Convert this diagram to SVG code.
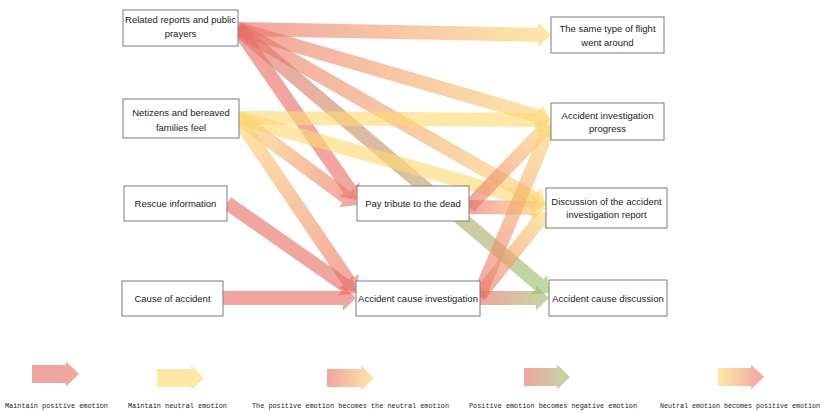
<svg xmlns="http://www.w3.org/2000/svg" width="830" height="413" viewBox="0 0 830 413">
<defs>
<linearGradient id="gP" x1="0" y1="0" x2="1" y2="0"><stop offset="0" stop-color="#E86E67"/><stop offset="1" stop-color="#E86E67"/></linearGradient>
<linearGradient id="gN" x1="0" y1="0" x2="1" y2="0"><stop offset="0" stop-color="#FDD973"/><stop offset="1" stop-color="#FDD973"/></linearGradient>
<linearGradient id="gPN" x1="0" y1="0" x2="1" y2="0"><stop offset="0" stop-color="#E86E67"/><stop offset="1" stop-color="#FDD973"/></linearGradient>
<linearGradient id="gPNeg" x1="0" y1="0" x2="1" y2="0"><stop offset="0" stop-color="#E86E67"/><stop offset="1" stop-color="#98C06D"/></linearGradient>
<linearGradient id="gNP" x1="0" y1="0" x2="1" y2="0"><stop offset="0" stop-color="#FDD973"/><stop offset="1" stop-color="#E86E67"/></linearGradient>
<style>
.a{fill-opacity:0.62;stroke:none}
.p{fill:url(#gP)}
.n{fill:url(#gN)}
.pn{fill:url(#gPN)}
.png{fill:url(#gPNeg)}
.np{fill:url(#gNP)}
.box{fill:#fff;stroke:#7a7a7a;stroke-width:1}
.t{font-family:"Liberation Sans",Arial,sans-serif;font-size:9.5px;fill:#222;text-anchor:middle}
.lg{font-family:"Liberation Mono","Courier New",monospace;font-size:7px;fill:#222}
</style>
</defs>

<g id="connectors">
<g transform="translate(238 29) rotate(1.10)"><path class="a pn" d="M0,-7H300.06V-12.5L313.06,0L300.06,12.5V7H0Z"/></g>
<g transform="translate(238 29) rotate(16.21)"><path class="a pn" d="M0,-7H312.96V-12.5L325.96,0L312.96,12.5V7H0Z"/></g>
<g transform="translate(238 29) rotate(29.74)"><path class="a pn" d="M0,-7H341.74V-12.5L354.74,0L341.74,12.5V7H0Z"/></g>
<g transform="translate(238 29) rotate(55.16)"><path class="a p" d="M0,-7H195.33V-12.5L208.33,0L195.33,12.5V7H0Z"/></g>
<g transform="translate(238 29) rotate(40.33)"><path class="a png" d="M0,-7H394.94V-12.5L407.94,0L394.94,12.5V7H0Z"/></g>
<g transform="translate(239 118) rotate(0.37)"><path class="a n" d="M0,-7H299.01V-12.5L312.01,0L299.01,12.5V7H0Z"/></g>
<g transform="translate(239 118) rotate(15.82)"><path class="a n" d="M0,-7H306.09V-12.5L319.09,0L306.09,12.5V7H0Z"/></g>
<g transform="translate(239 118) rotate(36.40)"><path class="a np" d="M0,-7H133.6V-12.5L146.6,0L133.6,12.5V7H0Z"/></g>
<g transform="translate(239 120) rotate(55.78)"><path class="a np" d="M0,-7H195.02V-12.5L208.02,0L195.02,12.5V7H0Z"/></g>
<g transform="translate(227 203) rotate(34.90)"><path class="a p" d="M0,-7H144.29V-12.5L157.29,0L144.29,12.5V7H0Z"/></g>
<g transform="translate(223 298)"><path class="a p" d="M0,-7H120V-12.5L133,0L120,12.5V7H0Z"/></g>
<g transform="translate(469 207) rotate(-46.03)"><path class="a pn" d="M0,-7H105.11V-12.5L118.11,0L105.11,12.5V7H0Z"/></g>
<g transform="translate(469 207) rotate(0.74)"><path class="a pn" d="M0,-7H64.01V-12.5L77.01,0L64.01,12.5V7H0Z"/></g>
<g transform="translate(479 296) rotate(-67.29)"><path class="a pn" d="M0,-7H173.46V-12.5L186.46,0L173.46,12.5V7H0Z"/></g>
<g transform="translate(479 296) rotate(-51.42)"><path class="a pn" d="M0,-7H94.45V-12.5L107.45,0L94.45,12.5V7H0Z"/></g>
<g transform="translate(479 298)"><path class="a png" d="M0,-7H57V-12.5L70,0L57,12.5V7H0Z"/></g>
</g>

<g id="n1"><rect class="box" x="123" y="10" width="115" height="36"/><text class="t" x="180.5" y="23">Related reports and public</text><text class="t" x="180.5" y="37">prayers</text></g>
<g id="n2"><rect class="box" x="123" y="99" width="116" height="39"/><text class="t" x="181" y="115.5">Netizens and bereaved</text><text class="t" x="181" y="130.5">families feel</text></g>
<g id="n3"><rect class="box" x="124" y="186" width="103" height="35"/><text class="t" x="175.5" y="206.5">Rescue information</text></g>
<g id="n4"><rect class="box" x="122" y="281" width="101" height="35"/><text class="t" x="172.5" y="301.5">Cause of accident</text></g>
<g id="n5"><rect class="box" x="357" y="186" width="112" height="35"/><text class="t" x="413" y="206.5">Pay tribute to the dead</text></g>
<g id="n6"><rect class="box" x="356" y="281" width="124" height="35"/><text class="t" x="418" y="301.5">Accident cause investigation</text></g>
<g id="n7"><rect class="box" x="551" y="17" width="113" height="36"/><text class="t" x="607.5" y="31.5">The same type of flight</text><text class="t" x="607.5" y="45.5">went around</text></g>
<g id="n8"><rect class="box" x="551" y="103" width="113" height="37"/><text class="t" x="607.5" y="118.5">Accident investigation</text><text class="t" x="607.5" y="131.5">progress</text></g>
<g id="n9"><rect class="box" x="546" y="188" width="121" height="40"/><text class="t" x="606.5" y="204.5">Discussion of the accident</text><text class="t" x="606.5" y="217.5">investigation report</text></g>
<g id="n10"><rect class="box" x="549" y="280" width="118" height="36"/><text class="t" x="608" y="301.5">Accident cause discussion</text></g>

<g id="legend">
<g transform="translate(32 374)"><path class="a p" d="M0,-9H34V-12.5L47,0L34,12.5V9H0Z"/></g>
<g transform="translate(157 378)"><path class="a n" d="M0,-9H34V-12.5L47,0L34,12.5V9H0Z"/></g>
<g transform="translate(327 378)"><path class="a pn" d="M0,-9H34V-12.5L47,0L34,12.5V9H0Z"/></g>
<g transform="translate(524 377)"><path class="a png" d="M0,-9H33V-12.5L46,0L33,12.5V9H0Z"/></g>
<g transform="translate(718 377)"><path class="a np" d="M0,-9H33V-12.5L46,0L33,12.5V9H0Z"/></g>
<text class="lg" x="5" y="408" textLength="103" lengthAdjust="spacingAndGlyphs">Maintain positive emotion</text>
<text class="lg" x="128" y="408" textLength="99" lengthAdjust="spacingAndGlyphs">Maintain neutral emotion</text>
<text class="lg" x="252" y="408" textLength="197" lengthAdjust="spacingAndGlyphs">The positive emotion becomes the neutral emotion</text>
<text class="lg" x="469" y="408" textLength="168" lengthAdjust="spacingAndGlyphs">Positive emotion becomes negative emotion</text>
<text class="lg" x="660" y="408" textLength="160" lengthAdjust="spacingAndGlyphs">Neutral emotion becomes positive emotion</text>
</g>
</svg>
